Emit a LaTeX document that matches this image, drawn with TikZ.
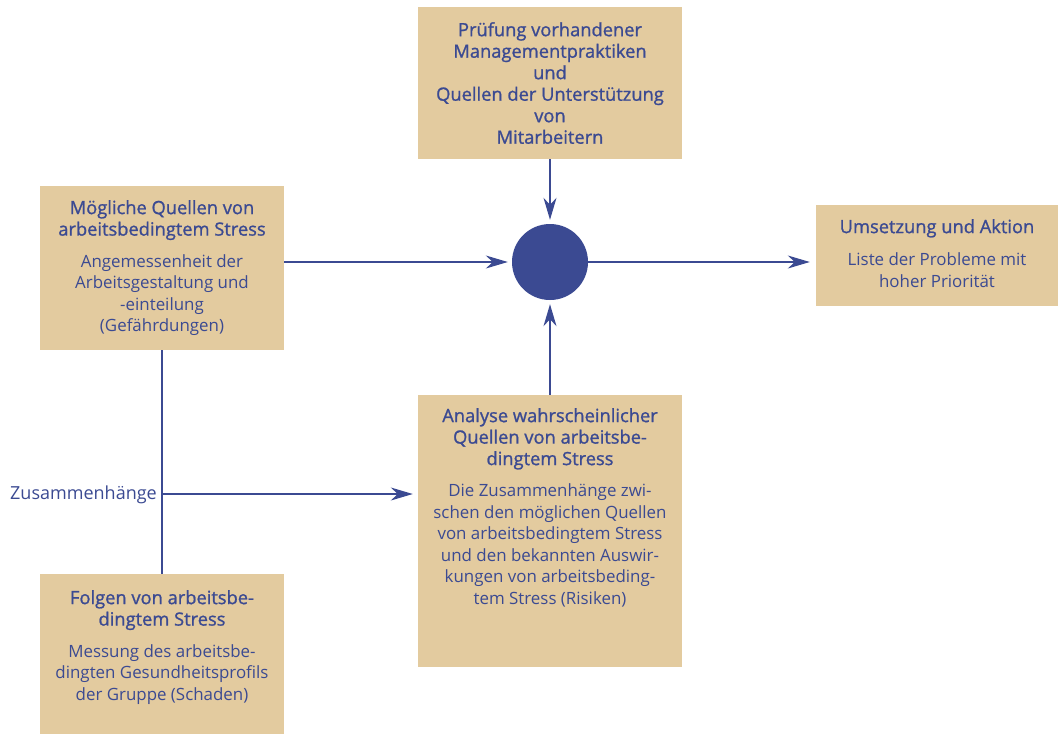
\documentclass[tikz,border=0pt]{standalone}
\usepackage{fontspec}
\setmainfont{Open Sans}
\newfontfamily\hfontfam[FakeBold=1.1]{Open Sans}
\newcommand{\hf}{\hfontfam\fontsize{18.3}{21}\selectfont}
\usetikzlibrary{arrows.meta}
\definecolor{tan}{HTML}{E3CB9F}
\definecolor{ink}{HTML}{3B4A92}
\tikzset{
  box/.style={fill=tan, draw=none, inner sep=0pt},
  txt/.style={text=ink, align=center, font=\fontsize{16.9}{21.5}\selectfont, inner sep=0pt},
  conn/.style={draw=ink, line width=1.3pt, -{Stealth[length=22pt,width=13pt,inset=7pt]}},
  plain/.style={draw=ink, line width=1.3pt},
}
\begin{document}
\begin{tikzpicture}[x=1pt,y=-1pt]
\useasboundingbox (0,0) rectangle (1058,734);
% boxes
\node[box, minimum width=264pt, minimum height=152pt] (top) at (550,83) {};
\node[box, minimum width=244pt, minimum height=164pt] (left) at (162,268) {};
\node[box, minimum width=242pt, minimum height=101pt] (right) at (937,255.5) {};
\node[box, minimum width=264pt, minimum height=272pt] (ana) at (550,531) {};
\node[box, minimum width=244pt, minimum height=160pt] (folg) at (162,654) {};
\node[circle, fill=ink, minimum size=76pt, inner sep=0pt] (dot) at (550,262) {};
% texts
\node[txt, anchor=north] (toptxt) at (550,22) {\hf Prüfung vorhandener\\\hf Managementpraktiken\\\hf und\\\hf Quellen der Unterstützung\\\hf von\\\hf Mitarbeitern};
\node[txt, anchor=north] (lefttxt) at (162,200) {\hf Mögliche Quellen von\\\hf arbeitsbedingtem Stress\\[10pt] Angemessenheit der\\Arbeitsgestaltung und\\-einteilung\\(Gefährdungen)};
\node[txt, anchor=north] (righttxt) at (937,219) {\hf Umsetzung und Aktion\\[11pt] Liste der Probleme mit\\hoher Priorität};
\node[txt, anchor=north] (anatxt) at (550,408) {\hf Analyse wahrscheinlicher\\\hf Quellen von arbeitsbe-\\\hf dingtem Stress\\[10pt] Die Zusammenhänge zwi-\\schen den möglichen Quellen\\von arbeitsbedingtem Stress\\und den bekannten Auswir-\\kungen von arbeitsbeding-\\tem Stress (Risiken)};
\node[txt, anchor=north] (folgtxt) at (162,590) {\hf Folgen von arbeitsbe-\\\hf dingtem Stress\\[10pt] Messung des arbeitsbe-\\dingten Gesundheitsprofils\\der Gruppe (Schaden)};
\node[txt, anchor=east, font=\fontsize{18}{21}\selectfont] (zus) at (157,495) {Zusammenhänge};
% connectors
\coordinate (j) at (left.south |- 0,494);
\draw[plain] (left.south) -- (folg.north);
\draw[conn, shorten >=5pt] (j) -- (ana.west |- j);
\draw[conn, shorten >=4pt] (left.east |- dot.west) -- (dot.west);
\draw[conn, shorten >=4pt] (top.south) -- (dot.north);
\draw[conn, shorten >=4pt] (ana.north) -- (dot.south);
\draw[conn, shorten >=6pt] (dot.east) -- (right.west |- dot.east);
\end{tikzpicture}
\end{document}
